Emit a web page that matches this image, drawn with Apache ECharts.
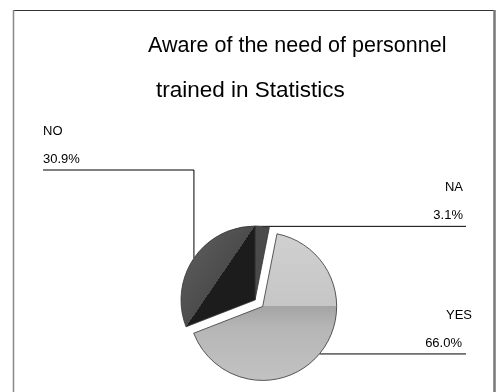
<!DOCTYPE html>
<html>
<head>
<meta charset="utf-8">
<script src="https://cdn.jsdelivr.net/npm/echarts@6/dist/echarts.min.js"></script>
<style>
  html, body { margin: 0; padding: 0; background: #fff; }
  #chart { width: 500px; height: 392px; }
</style>
</head>
<body>
<div id="chart"></div>
<script>
// Survey answers, in drawing order clockwise from 12 o'clock
const categories = ['NA', 'YES', 'NO'];
const shares = [3.1, 66.0, 30.9];
const titleLines = ['Aware of the need of personnel', 'trained in Statistics'];
const explodedCategory = 'YES';

// ---- presentation ----
const FONT = '"Liberation Sans", Arial, sans-serif';
const CENTER = [255, 300];
const RADIUS = 74;
const EXPLODE = 10;

const sliceStyles = {
  NA: { color: '#4a4a4a' },
  YES: {
    color: {
      type: 'linear', x: 0, y: 0, x2: 0, y2: 1,
      colorStops: [
        { offset: 0, color: '#d0d0d0' },
        { offset: 0.495, color: '#c6c6c6' },
        { offset: 0.495, color: '#a4a4a4' },
        { offset: 0.64, color: '#b6b6b6' },
        { offset: 1, color: '#c2c2c2' }
      ]
    }
  },
  NO: {
    color: {
      type: 'linear', x: 0.032, y: 0.248, x2: 1.035, y2: 0.752,
      colorStops: [
        { offset: 0, color: '#5c5c5c' },
        { offset: 0.5, color: '#4c4c4c' },
        { offset: 0.5, color: '#1c1c1c' },
        { offset: 1, color: '#1c1c1c' }
      ]
    }
  }
};

// where each label block and its leader line go
const labelSpots = {
  NO:  { side: 'left',  x: 43,  lineY: 170, lineEnd: 43 },
  NA:  { side: 'right', x: 463, lineEnd: 466 },
  YES: { side: 'right', x: 472, lineEnd: 466, valueStyle: 'vPad' }
};

const total = shares.reduce((a, b) => a + b, 0);

// mid angle of the exploded slice (clockwise from 12 o'clock)
const explIdx = categories.indexOf(explodedCategory);
let before = 0;
for (let i = 0; i < explIdx; i++) before += shares[i];
const midRad = ((before + shares[explIdx] / 2) / total) * Math.PI * 2;
const explodedCenter = [CENTER[0] + EXPLODE * Math.sin(midRad), CENTER[1] - EXPLODE * Math.cos(midRad)];

function labelText(p) {
  const spot = labelSpots[p.name];
  const vs = spot.valueStyle || 'v';
  return '{n|' + p.name + '}\n{' + vs + '|' + Number(p.value).toFixed(1) + '%}';
}

const richStyles = {
  n: { fontSize: 13, lineHeight: 28, color: '#000', fontFamily: FONT },
  v: { fontSize: 13, lineHeight: 28, color: '#000', fontFamily: FONT },
  vPad: { fontSize: 13, lineHeight: 28, color: '#000', fontFamily: FONT, padding: [0, 10, 0, 0] }
};

function placeLabel(p) {
  const name = categories[p.dataIndex];
  const spot = labelSpots[name];
  const start = p.labelLinePoints ? p.labelLinePoints[0] : [0, 0];
  let pts, lineY;
  if (spot.side === 'left') {
    lineY = spot.lineY;
    pts = [start, [start[0], lineY], [spot.lineEnd, lineY]];
  } else {
    lineY = start[1];
    pts = [start, [spot.lineEnd, lineY]];
  }
  return {
    x: spot.x,
    y: lineY - 53,
    align: spot.side === 'left' ? 'left' : 'right',
    verticalAlign: 'top',
    labelLinePoints: pts
  };
}

function buildData(visible) {
  return categories.map((name, i) => {
    const show = visible(name);
    return {
      name: name,
      value: shares[i],
      itemStyle: show
        ? Object.assign({ borderColor: '#333', borderWidth: 0.8 }, sliceStyles[name])
        : { color: 'rgba(0,0,0,0)', borderWidth: 0 },
      label: { show: show },
      labelLine: { show: show }
    };
  });
}

function pieSeries(center, visible) {
  return {
    type: 'pie',
    center: center,
    radius: RADIUS,
    startAngle: 90,
    clockwise: true,
    avoidLabelOverlap: false,
    silent: true,
    emphasis: { disabled: true },
    label: {
      position: 'outside',
      formatter: labelText,
      rich: richStyles
    },
    labelLine: {
      show: true,
      lineStyle: { color: '#000', width: 1 }
    },
    labelLayout: placeLabel,
    data: buildData(visible)
  };
}

const chart = echarts.init(document.getElementById('chart'), null, { renderer: 'canvas' });
chart.setOption({
  animation: false,
  backgroundColor: '#fff',
  title: [
    {
      text: titleLines[0], left: 143, top: 30,
      textStyle: { fontSize: 21.5, fontWeight: 'normal', color: '#000', fontFamily: FONT }
    },
    {
      text: titleLines[1], left: 151, top: 74,
      textStyle: { fontSize: 22.5, fontWeight: 'normal', color: '#000', fontFamily: FONT }
    }
  ],
  graphic: [
    { type: 'line', shape: { x1: 13, y1: 10.5, x2: 495, y2: 10.5 }, style: { stroke: '#333', lineWidth: 1 } },
    { type: 'line', shape: { x1: 13.5, y1: 10, x2: 13.5, y2: 392 }, style: { stroke: '#888', lineWidth: 1.5 } },
    { type: 'line', shape: { x1: 494.5, y1: 10, x2: 494.5, y2: 392 }, style: { stroke: '#777', lineWidth: 2.5 } }
  ],
  series: [
    pieSeries(CENTER, name => name !== explodedCategory),
    pieSeries(explodedCenter, name => name === explodedCategory)
  ]
});
</script>
</body>
</html>
